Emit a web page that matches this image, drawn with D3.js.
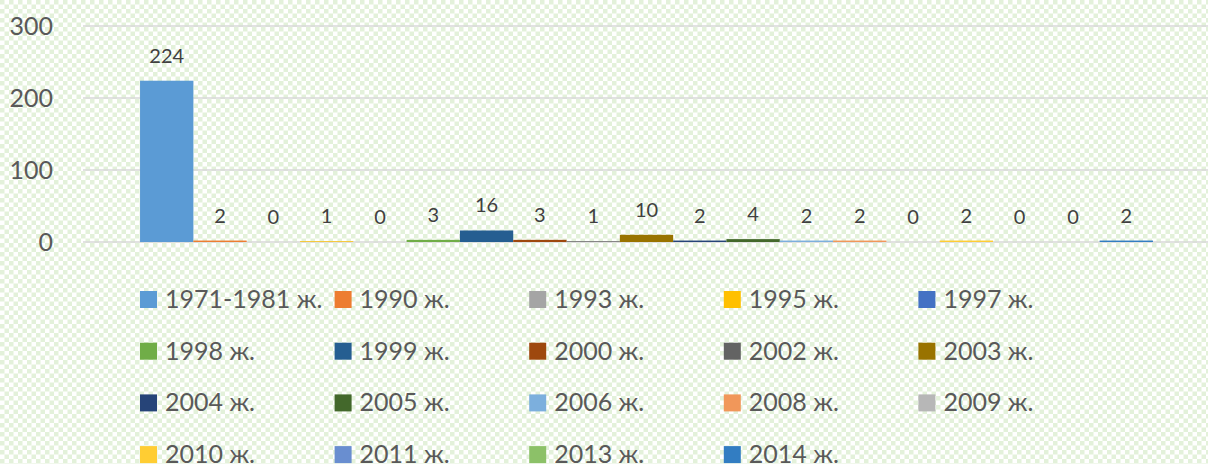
<!DOCTYPE html>
<html>
<head>
<meta charset="utf-8">
<script src="https://cdn.jsdelivr.net/npm/d3@7"></script>
<style>
  body { margin: 0; padding: 0; }
  svg { display: block; font-family: Lato, "Open Sans", sans-serif; }
</style>
</head>
<body>
<script>
var w = 1208, h = 464;

var years = ["1971-1981 ж.", "1990 ж.", "1993 ж.", "1995 ж.", "1997 ж.", "1998 ж.", "1999 ж.",
             "2000 ж.", "2002 ж.", "2003 ж.", "2004 ж.", "2005 ж.", "2006 ж.", "2008 ж.",
             "2009 ж.", "2010 ж.", "2011 ж.", "2013 ж.", "2014 ж."];
var counts = [224, 2, 0, 1, 0, 3, 16, 3, 1, 10, 2, 4, 2, 2, 0, 2, 0, 0, 2];
var colors = ["#5b9bd5", "#ed7d31", "#a5a5a5", "#ffc000", "#4472c4", "#70ad47", "#255e91",
              "#9e480e", "#636363", "#997300", "#264478", "#43682b", "#7cafdd", "#f1975a",
              "#b7b7b7", "#ffcd33", "#698ed0", "#8cc168", "#327dc2"];
var yTicks = [0, 100, 200, 300];

var svg = d3.select("body").append("svg")
            .attr("width", w)
            .attr("height", h);

// checkerboard background
var pat = svg.append("defs").append("pattern")
             .attr("id", "checker")
             .attr("width", 9)
             .attr("height", 9)
             .attr("patternUnits", "userSpaceOnUse");
pat.append("rect").attr("width", 9).attr("height", 9).attr("fill", "#ffffff");
pat.append("rect").attr("width", 4.5).attr("height", 4.5).attr("fill", "#e3f1da");
pat.append("rect").attr("x", 4.5).attr("y", 4.5).attr("width", 4.5).attr("height", 4.5).attr("fill", "#e3f1da");
svg.append("rect").attr("width", w).attr("height", h).attr("fill", "url(#checker)");

var plotLeft = 83, plotRight = 1210;
var y = d3.scaleLinear().domain([0, 300]).range([242, 26]);
var x = d3.scaleBand().domain(years).range([plotLeft, plotRight])
          .paddingInner(0).paddingOuter(1.07);

// gridlines
svg.append("g").selectAll("line")
   .data(yTicks)
   .enter().append("line")
   .attr("x1", plotLeft).attr("x2", w)
   .attr("y1", function(d) { return y(d); })
   .attr("y2", function(d) { return y(d); })
   .attr("stroke", "#d9d9d9")
   .attr("stroke-width", 1.5);

// y axis labels
svg.append("g").selectAll("text")
   .data(yTicks)
   .enter().append("text")
   .attr("x", 53)
   .attr("y", function(d) { return y(d) + 9; })
   .attr("text-anchor", "end")
   .attr("font-size", 25)
   .attr("fill", "#595959")
   .text(function(d) { return d; });

// bars
svg.append("g").selectAll("rect")
   .data(counts)
   .enter().append("rect")
   .attr("x", function(d, i) { return x(years[i]); })
   .attr("width", x.bandwidth())
   .attr("y", function(d) { return y(d); })
   .attr("height", function(d) { return Math.max(0, y(0) - y(d)); })
   .attr("fill", function(d, i) { return colors[i]; });

// value labels
svg.append("g").selectAll("text")
   .data(counts)
   .enter().append("text")
   .attr("x", function(d, i) { return x(years[i]) + x.bandwidth() / 2; })
   .attr("y", function(d) { return y(d) - 18; })
   .attr("text-anchor", "middle")
   .attr("font-size", 20)
   .attr("fill", "#404040")
   .text(function(d) { return d; });

// legend, 5 per row
var legend = svg.append("g").selectAll(".legend")
   .data(years)
   .enter().append("g")
   .attr("class", "legend")
   .attr("transform", function(d, i) {
     var col = i % 5, row = Math.floor(i / 5);
     return "translate(" + (140 + col * 194.6) + "," + (291 + row * 51.7) + ")";
   });
legend.append("rect")
      .attr("width", 17)
      .attr("height", 17)
      .attr("fill", function(d, i) { return colors[i]; });
legend.append("text")
      .attr("x", 25)
      .attr("y", 17)
      .attr("font-size", 25)
      .attr("fill", "#595959")
      .text(function(d) { return d; });
</script>
</body>
</html>
